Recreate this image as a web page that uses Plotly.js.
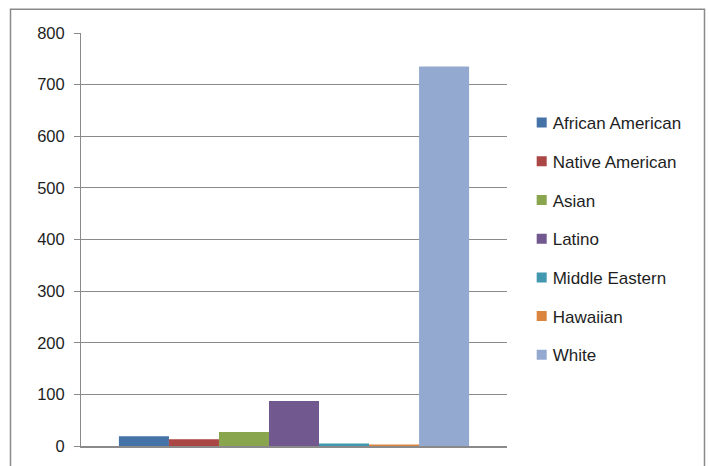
<!DOCTYPE html>
<html>
<head>
<meta charset="utf-8">
<script src="https://cdn.plot.ly/plotly-3.0.1.min.js"></script>
<style>
  html, body { margin: 0; padding: 0; background: #fff; }
  #chart { width: 709px; height: 466px; }
</style>
</head>
<body>
<div id="chart"></div>
<script>
// Enrollment counts by group
const groups = ['African American', 'Native American', 'Asian', 'Latino', 'Middle Eastern', 'Hawaiian', 'White'];
const counts = [19, 13, 27, 87, 5, 3, 735];
const colors = ['#4572A7', '#AA4643', '#89A54E', '#71588F', '#4198AF', '#DB843D', '#93A9CF'];
const yTicks = [0, 100, 200, 300, 400, 500, 600, 700, 800];

const traces = groups.map((name, i) => ({
  type: 'bar',
  name: name,
  legendgroup: 'g' + i,
  x: [''],
  y: [counts[i]],
  marker: { color: colors[i], line: { width: 0 } },
  hoverinfo: 'name+y'
}));

const grid = '#8a8a8a';
const layout = {
  width: 709,
  height: 466,
  margin: { l: 81, r: 202, t: 33, b: 20 },
  paper_bgcolor: '#ffffff',
  plot_bgcolor: '#ffffff',
  font: { family: 'Liberation Sans, Arial, sans-serif', size: 16.5, color: '#1e1e1e' },
  barmode: 'group',
  bargap: 0.178,
  bargroupgap: 0,
  showlegend: true,
  legend: {
    x: 1.0345, xanchor: 'left',
    y: 0.8255, yanchor: 'top',
    font: { size: 17 },
    bgcolor: 'rgba(0,0,0,0)',
    traceorder: 'grouped',
    tracegroupgap: 13.6
  },
  xaxis: {
    showticklabels: false,
    showgrid: false,
    zeroline: false,
    showline: true,
    linecolor: grid,
    linewidth: 1.5,
    ticks: ''
  },
  yaxis: {
    range: [0, 800],
    tickvals: yTicks,
    ticktext: yTicks.map(String),
    showgrid: true,
    gridcolor: grid,
    gridwidth: 1,
    zeroline: false,
    showline: true,
    linecolor: grid,
    linewidth: 1,
    ticks: 'outside',
    ticklen: 6,
    tickcolor: grid,
    ticklabelstandoff: 6
  },
  shapes: [{
    type: 'rect', xref: 'paper', yref: 'paper',
    x0: -0.1655, x1: 1.4636, y0: -0.06, y1: 1.0577,
    line: { color: '#8a8a8a', width: 1.5 },
    fillcolor: 'rgba(0,0,0,0)'
  }]
};

Plotly.newPlot('chart', traces, layout, { displayModeBar: false, staticPlot: true }).then(() => {
  // compact legend entries: small square swatch with the text close to it
  document.querySelectorAll('.legend .traces').forEach(g => {
    g.querySelectorAll('.legendpoints path').forEach(p => p.setAttribute('d', 'M5,5H-5V-5H5Z'));
    const t = g.querySelector('.legendtext');
    if (t) t.setAttribute('x', 31);
  });
});
</script>
</body>
</html>
